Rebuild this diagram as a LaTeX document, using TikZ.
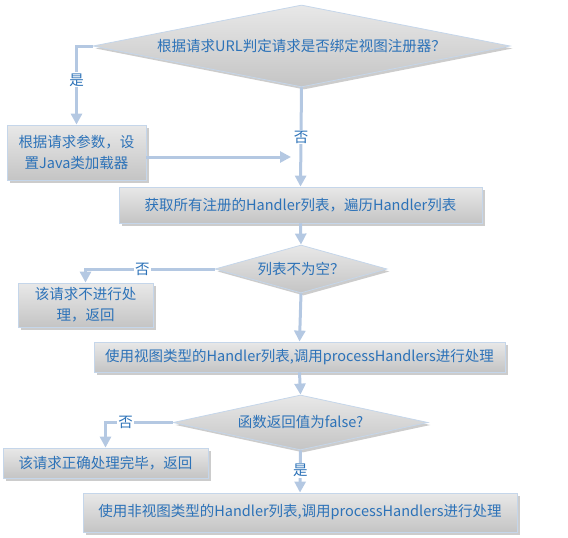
\documentclass[tikz,border=0pt]{standalone}
\usepackage{fontspec}
\setmainfont{Noto Sans CJK SC}
\usetikzlibrary{shapes.geometric,arrows.meta,shadows}
\definecolor{txtblue}{RGB}{44,114,184}
\definecolor{lnblue}{RGB}{180,200,226}
\definecolor{bdblue}{RGB}{197,214,234}
\tikzset{
  shapebase/.style={draw=bdblue, line width=0.8pt, top color=black!9, bottom color=black!23,
    drop shadow={shadow xshift=2.5pt, shadow yshift=-2.5pt, fill=black!40, opacity=0.5}},
  boxnode/.style={shapebase, rectangle, inner sep=0pt, align=center, text=txtblue,
    font=\fontsize{14.5}{21}\selectfont},
  decnode/.style={shapebase, diamond, inner sep=0pt},
  dectext/.style={text=txtblue, font=\fontsize{14.5}{19}\selectfont, inner sep=0pt},
  conn/.style={draw=lnblue, line width=3pt, -{Triangle[width=11pt,length=11pt]}},
  lbl/.style={fill=white, text=txtblue, font=\fontsize{14.5}{16}\selectfont, inner sep=1pt}
}
\begin{document}
\begin{tikzpicture}[x=1pt,y=-1pt]
\useasboundingbox (0,0) rectangle (568,538);
% nodes
\node[decnode, minimum width=417pt, minimum height=82pt] (d1) at (301.5,46) {};
\node[dectext] (t1) at (d1) {根据请求URL判定请求是否绑定视图注册器？};
\node[boxnode, minimum width=139pt, minimum height=55pt] (b1) at (76.5,152.5) {根据请求参数，设\\置Java类加载器};
\node[boxnode, minimum width=363pt, minimum height=36pt] (b2) at (300.5,205) {获取所有注册的Handler列表，遍历Handler列表};
\node[decnode, minimum width=172pt, minimum height=48pt] (d2) at (301,269) {};
\node[dectext] (t2) at (d2) {列表不为空？};
\node[boxnode, minimum width=135pt, minimum height=44pt] (b3) at (85.5,305) {该请求不进行处\\理，返回};
\node[boxnode, minimum width=411pt, minimum height=30pt] (b4) at (299.5,357) {使用视图类型的Handler列表,调用processHandlers进行处理};
\node[decnode, minimum width=255pt, minimum height=55pt] (d3) at (300.5,422.5) {};
\node[dectext] (t3) at (d3) {函数返回值为false?};
\node[boxnode, minimum width=205pt, minimum height=30pt] (b5) at (105.5,463) {该请求正确处理完毕，返回};
\node[boxnode, minimum width=434pt, minimum height=39pt] (b6) at (300,512.5) {使用非视图类型的Handler列表,调用processHandlers进行处理};
% connectors
\coordinate (j1) at (291,157);
\draw[conn] (d1.west) -| node[lbl, pos=0.715] {是} (b1.north);
\draw[conn] (d1.south) -- node[lbl, pos=0.5] {否} (b2.north);
\draw[conn] (b1.east |- j1) -- (j1);
\draw[conn] (b2.south) -- (d2.north);
\draw[conn] (d2.west) -| node[lbl, pos=0.28] {否} (b3.north);
\draw[conn] (d2.south) -- (b4.north);
\draw[conn] (b4.south) -- (d3.north);
\draw[conn] (d3.west) -| node[lbl, pos=0.35] {否} (b5.north);
\draw[conn] (d3.south) -- node[lbl, pos=0.47] {是} (b6.north);
\end{tikzpicture}
\end{document}
